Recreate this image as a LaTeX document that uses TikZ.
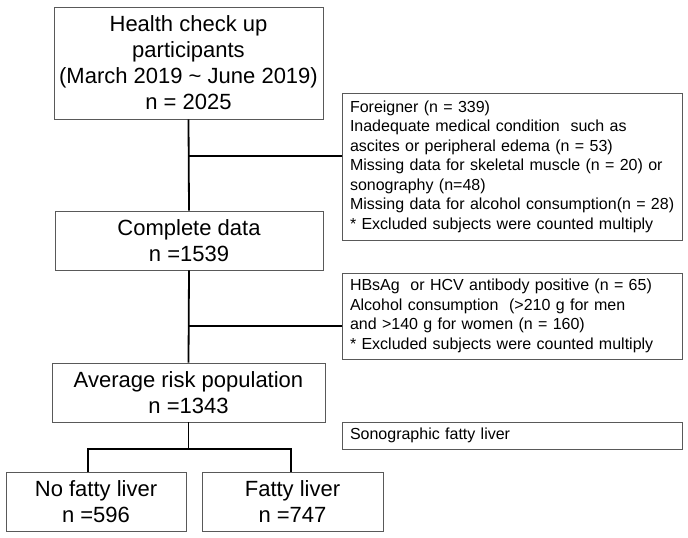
\documentclass[tikz,border=0pt]{standalone}
\usepackage{fontspec}
\setmainfont{Liberation Sans}
\begin{document}
\begin{tikzpicture}[x=1pt,y=-1pt,
  box/.style={draw=black!65, line width=0.9pt, rectangle, inner ysep=2pt, text=black},
  bigbox/.style={box, align=center, font=\fontsize{22}{26}\selectfont},
  notebox/.style={box, align=left, inner xsep=8pt, text width=324pt, font=\fontsize{16}{19.5}\selectfont},
  conn/.style={draw=black, line width=1.8pt}]
\useasboundingbox (0,0) rectangle (688,538);
\node[bigbox, minimum width=269pt, minimum height=112pt] (top) at (188.5,63)
  {Health check up\\participants\\(March 2019 \char`~{} June 2019)\\n = 2025};
\node[bigbox, minimum width=268pt, minimum height=59pt] (comp) at (189,240.5)
  {Complete data\\n =1539};
\node[bigbox, minimum width=273pt, minimum height=59pt] (avg) at (188.5,392.5)
  {Average risk population\\n =1343};
\node[bigbox, minimum width=180pt, minimum height=59pt] (nof) at (96,501.5)
  {No fatty liver\\n =596};
\node[bigbox, minimum width=181pt, minimum height=59pt] (fat) at (292.5,501.5)
  {Fatty liver\\n =747};
\node[notebox, minimum height=147pt] (ex1) at (512,166.5)
  {Foreigner (n = 339)\\
   Inadequate medical condition\ \ such as\\
   ascites or peripheral edema (n = 53)\\
   \mbox{Missing data for skeletal muscle (n = 20) or}\\
   sonography (n=48)\\
   \mbox{Missing data for alcohol consumption(n = 28)}\\
   {*} Excluded subjects were counted multiply};
\node[notebox, minimum height=86pt] (ex2) at (512,316)
  {HBsAg\ \ or HCV antibody positive (n = 65)\\
   Alcohol consumption\ \ (>210 g for men\\
   and >140 g for women (n = 160)\\
   {*} Excluded subjects were counted multiply};
\node[notebox, minimum height=27pt] (sono) at (512,435.5)
  {Sonographic fatty liver};
\coordinate (j1) at (189,156);
\coordinate (j2) at (189,326);
\coordinate (bl) at (88,449);
\coordinate (br) at (291,449);
\draw[conn] (top.south) -- (comp.north);
\draw[conn] (j1) -- (j1 -| ex1.west);
\draw[conn] (comp.south) -- (avg.north);
\draw[conn] (j2) -- (j2 -| ex2.west);
\draw[conn] (avg.south) -- (avg.south |- bl);
\draw[conn, line join=miter] (nof.north -| bl) -- (bl) -- (br) -- (fat.north -| br);
\end{tikzpicture}
\end{document}
